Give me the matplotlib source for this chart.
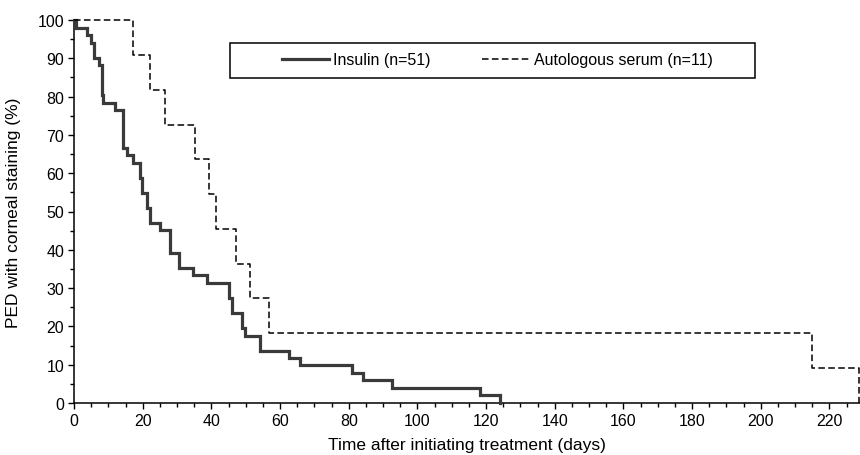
import matplotlib
matplotlib.use("Agg")
import matplotlib.pyplot as plt
from matplotlib.patches import Rectangle
from matplotlib.ticker import MultipleLocator

plt.rcParams['font.family'] = ['Liberation Sans', 'DejaVu Sans']

# Kaplan-Meier style data (time in days, % with corneal staining)
insulin_days = [0, 0.5, 3.7, 4.9, 5.8, 7.4, 8.1, 8.5, 11.9, 14.2, 15.3, 17.3, 19.2, 19.8,
                21.2, 22.1, 25.0, 27.9, 30.6, 34.7, 38.6, 45.1, 46.0, 48.8, 49.7, 54.1,
                62.7, 65.8, 81.1, 84.2, 92.5, 118.2, 124.0]
insulin_pct = [100, 98.0, 96.1, 94.1, 90.2, 88.2, 80.4, 78.4, 76.5, 66.7, 64.7, 62.7, 58.8, 54.9,
               51.0, 47.1, 45.1, 39.2, 35.3, 33.3, 31.4, 27.5, 23.5, 19.6, 17.6, 13.7,
               11.8, 9.8, 7.8, 5.9, 3.9, 2.0, 0]

serum_days = [0, 17.3, 22.1, 26.5, 35.2, 39.3, 41.3, 47.2, 51.4, 56.9, 214.9, 228.5]
serum_pct = [100, 90.9, 81.8, 72.7, 63.6, 54.5, 45.5, 36.4, 27.3, 18.2, 9.1, 0]

insulin_label = "Insulin (n=51)"
serum_label = "Autologous serum (n=11)"
x_ticks = list(range(0, 221, 20))
y_ticks = list(range(0, 101, 10))

fig = plt.figure(figsize=(8.6, 4.56), dpi=100)
ax = fig.add_axes([74/860, 52/456, 786/860, 383/456])

l1, = ax.step(insulin_days, insulin_pct, where='post', color='#3a3a3a', lw=2.3,
              solid_joinstyle='miter', clip_on=False, label=insulin_label, zorder=3)
l2, = ax.step(serum_days, serum_pct, where='post', color='black', lw=1.1,
              linestyle=(0, (4.3, 2.2)), clip_on=False, label=serum_label, zorder=3)

ax.set_xlim(0, 228.9)
ax.set_ylim(0, 100)
ax.set_xticks(x_ticks)
ax.set_yticks(y_ticks)
ax.xaxis.set_minor_locator(MultipleLocator(5))
ax.yaxis.set_minor_locator(MultipleLocator(5))
ax.tick_params(which='major', direction='out', length=4, width=1.0, labelsize=11.5, pad=3,
               color='black')
ax.tick_params(which='minor', direction='out', length=3, width=1.0, color='black')

for s in ['top', 'right']:
    ax.spines[s].set_visible(False)
for s in ['left', 'bottom']:
    ax.spines[s].set_linewidth(1.1)
    ax.spines[s].set_color('black')

ax.set_xlabel("Time after initiating treatment (days)", fontsize=12.5)
ax.set_ylabel("PED with corneal staining (%)", fontsize=12.5)
ax.xaxis.set_label_coords(0.5, -0.088)
ax.yaxis.set_label_coords(-0.068, 0.5)

# legend box
rect = Rectangle((0.198, 0.848), 0.668, 0.0925, transform=ax.transAxes,
                 fill=False, edgecolor='black', lw=1.1, zorder=4, clip_on=False)
ax.add_patch(rect)
leg = ax.legend(handles=[l1, l2], ncol=2, frameon=False, loc='center left',
                bbox_to_anchor=(0.264, 0.896), borderpad=0, borderaxespad=0,
                handlelength=3.0, handletextpad=0.25, columnspacing=3.2,
                fontsize=11.5)

fig.savefig("out.png", dpi=100)
